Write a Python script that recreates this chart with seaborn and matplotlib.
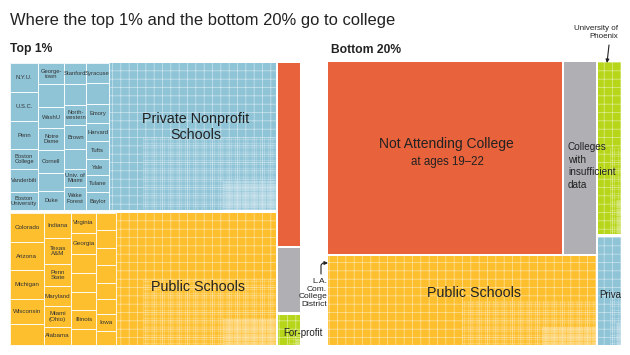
import matplotlib
matplotlib.use("Agg")
import matplotlib.pyplot as plt
from matplotlib.patches import Rectangle
import seaborn as sns

sns.set_theme(style="white")
plt.rcParams['font.family'] = ['Liberation Sans', 'DejaVu Sans']
plt.rcParams['hatch.linewidth'] = 0.5

# share of students (percent) by where they go, per income group
top1_groups = ["private", "public", "none", "nodata", "forprofit"]
top1_share = [48.3, 43.4, 5.4, 1.95, 0.95]
top1_tree = [[0, 1], [2, 3, 4]]

bottom20_groups = ["none", "nodata", "public", "forprofit", "private"]
bottom20_share = [54.3, 7.9, 29.3, 5.2, 3.3]
bottom20_tree = [[[0, 1], 2], [3, 4]]

# biggest single schools for the top 1% (percent of top-1% students), column by column
private_names = [
    ["N.Y.U.", "U.S.C.", "Penn", "Boston\nCollege", "Vanderbilt", "Boston\nUniversity"],
    ["George-\ntown", "", "WashU", "Notre\nDame", "Cornell", "", "Duke"],
    ["Stanford", "", "North-\nwestern", "Brown", "", "Univ. of\nMiami", "Wake\nForest"],
    ["Syracuse", "", "Emory", "Harvard", "Tufts", "Yale", "Tulane", "Baylor"],
]
private_vals = [
    [1.00, 0.98, 0.96, 0.67, 0.77, 0.63],
    [0.67, 0.71, 0.67, 0.69, 0.71, 0.58, 0.60],
    [0.56, 0.55, 0.53, 0.62, 0.53, 0.46, 0.62],
    [0.55, 0.55, 0.52, 0.50, 0.48, 0.42, 0.46, 0.50],
]
public_names = [
    ["Colorado", "Arizona", "Michigan", "Wisconsin", ""],
    ["Indiana", "Texas\nA&M", "Penn\nState", "Maryland", "Miami\n(Ohio)", "Alabama"],
    ["Virginia", "Georgia", "", "", "", "Illinois", ""],
    ["", "", "", "", "", "", "Iowa", ""],
]
public_vals = [
    [1.18, 1.17, 1.18, 1.02, 0.84],
    [0.82, 0.85, 0.73, 0.65, 0.69, 0.59],
    [0.59, 0.62, 0.56, 0.59, 0.53, 0.56, 0.47],
    [0.43, 0.42, 0.43, 0.42, 0.39, 0.38, 0.41, 0.34],
]

colors = {"private": "#8fc4d7", "public": "#fdbf2e", "none": "#e8623b",
          "nodata": "#b0afb4", "forprofit": "#b8d619"}
hatched = {"private", "public", "forprofit"}
GAP = 2.5
# texture of the many small schools: coarser top-left, finer towards bottom-right
texture = [(1.0, '++', 0.55), (0.5, '++++', 0.3), (0.2, '++++++++', 0.35)]


def total(node, shares):
    if isinstance(node, int):
        return shares[node]
    return sum(total(n, shares) for n in node)


def slice_dice(node, shares, x, y, w, h, horizontal, out):
    if isinstance(node, int):
        out[node] = (x + GAP / 2, y + GAP / 2, w - GAP, h - GAP)
        return
    t = total(node, shares)
    for child in node:
        f = total(child, shares) / t
        if horizontal:
            slice_dice(child, shares, x, y, w * f, h, False, out)
            x += w * f
        else:
            slice_dice(child, shares, x, y, w, h * f, True, out)
            y += h * f


def draw_panel(ax, groups, shares, tree, frame):
    rects = {}
    slice_dice(tree, shares, *frame, True, rects)
    out = {}
    for i, g in enumerate(groups):
        x, y, w, h = rects[i]
        p = Rectangle((x, y), w, h, facecolor=colors[g], edgecolor='none')
        ax.add_patch(p)
        if g in hatched:
            for frac, hatch, alpha in texture:
                ax.add_patch(Rectangle((x + w * (1 - frac), y + h * (1 - frac)),
                                       w * frac, h * frac, facecolor='none',
                                       edgecolor=(1, 1, 1, alpha), lw=0, hatch=hatch))
        out[g] = (rects[i], p)
    return out


def draw_schools(ax, rect, names, vals, scale, color, fs):
    bx, by, bw, bh = rect
    x = bx
    for col_names, col_vals in zip(names, vals):
        cw = sum(col_vals) * scale / bh
        y = by
        for name, v in zip(col_names, col_vals):
            ch = v * scale / cw
            ax.add_patch(Rectangle((x, y), cw, ch, facecolor=color,
                                   edgecolor='white', lw=0.6))
            if name:
                ax.text(x + cw / 2, y + ch / 2, name, ha='center', va='center',
                        fontsize=fs, color='#333333', linespacing=1.05)
            y += ch
        x += cw


fig = plt.figure(figsize=(6.3, 3.55), dpi=100)
ax = fig.add_axes([0, 0, 1, 1])
ax.set_xlim(0, 630)
ax.set_ylim(355, 0)
ax.axis('off')

top_frame = (8.75, 61.75, 292.5, 284.5)
bot_frame = (326.75, 60.75, 295.5, 285.5)
top = draw_panel(ax, top1_groups, top1_share, top1_tree, top_frame)
bot = draw_panel(ax, bottom20_groups, bottom20_share, bottom20_tree, bot_frame)

scale = top_frame[2] * top_frame[3] / 100
draw_schools(ax, top["private"][0], private_names, private_vals, scale, colors["private"], 4.2)
draw_schools(ax, top["public"][0], public_names, public_vals, scale, colors["public"], 4.5)

ink = '#222222'
ax.text(10, 25, "Where the top 1% and the bottom 20% go to college",
        fontsize=11.9, color=ink, va='baseline')
ax.text(10, 52, "Top 1%", fontsize=8.7, fontweight='bold', color=ink, va='baseline')
ax.text(331, 53, "Bottom 20%", fontsize=8.7, fontweight='bold', color=ink, va='baseline')

ax.text(196, 127, "Private Nonprofit\nSchools", fontsize=10.3, color=ink,
        ha='center', va='center', linespacing=1.15)
ax.text(198, 287, "Public Schools", fontsize=10.3, color=ink, ha='center', va='center')
ax.text(283, 333, "For-profit", fontsize=7, color=ink, ha='left', va='center')
ax.text(327, 293, "L.A.\nCom.\nCollege\nDistrict", fontsize=6, color=ink,
        ha='right', va='center', linespacing=1.15)

ax.text(446, 144, "Not Attending College", fontsize=10, color=ink, ha='center', va='center')
ax.text(447, 162, "at ages 19\u201322", fontsize=8.3, color=ink, ha='center', va='center')
ax.text(568, 166, "Colleges\nwith\ninsufficient\ndata", fontsize=7.2, color=ink,
        ha='left', va='center', linespacing=1.3)
ax.text(474, 293, "Public Schools", fontsize=10.3, color=ink, ha='center', va='center')
t = ax.text(599, 295, "Private", fontsize=7, color=ink, ha='left', va='center',
            clip_on=True)
t.set_clip_path(bot["private"][1])
ax.text(618, 33, "University of\nPhoenix", fontsize=5.8, color=ink,
        ha='right', va='center', linespacing=1.2)

arrow = dict(arrowstyle='-|>', color=ink, lw=0.8, mutation_scale=5,
             shrinkA=0, shrinkB=0)
ax.annotate("", xy=(328, 263), xytext=(321, 274),
            arrowprops=dict(arrow, connectionstyle='angle,angleA=90,angleB=0,rad=3'))
ax.annotate("", xy=(607, 63), xytext=(609, 45), arrowprops=arrow)

fig.savefig("out.png", dpi=100)
